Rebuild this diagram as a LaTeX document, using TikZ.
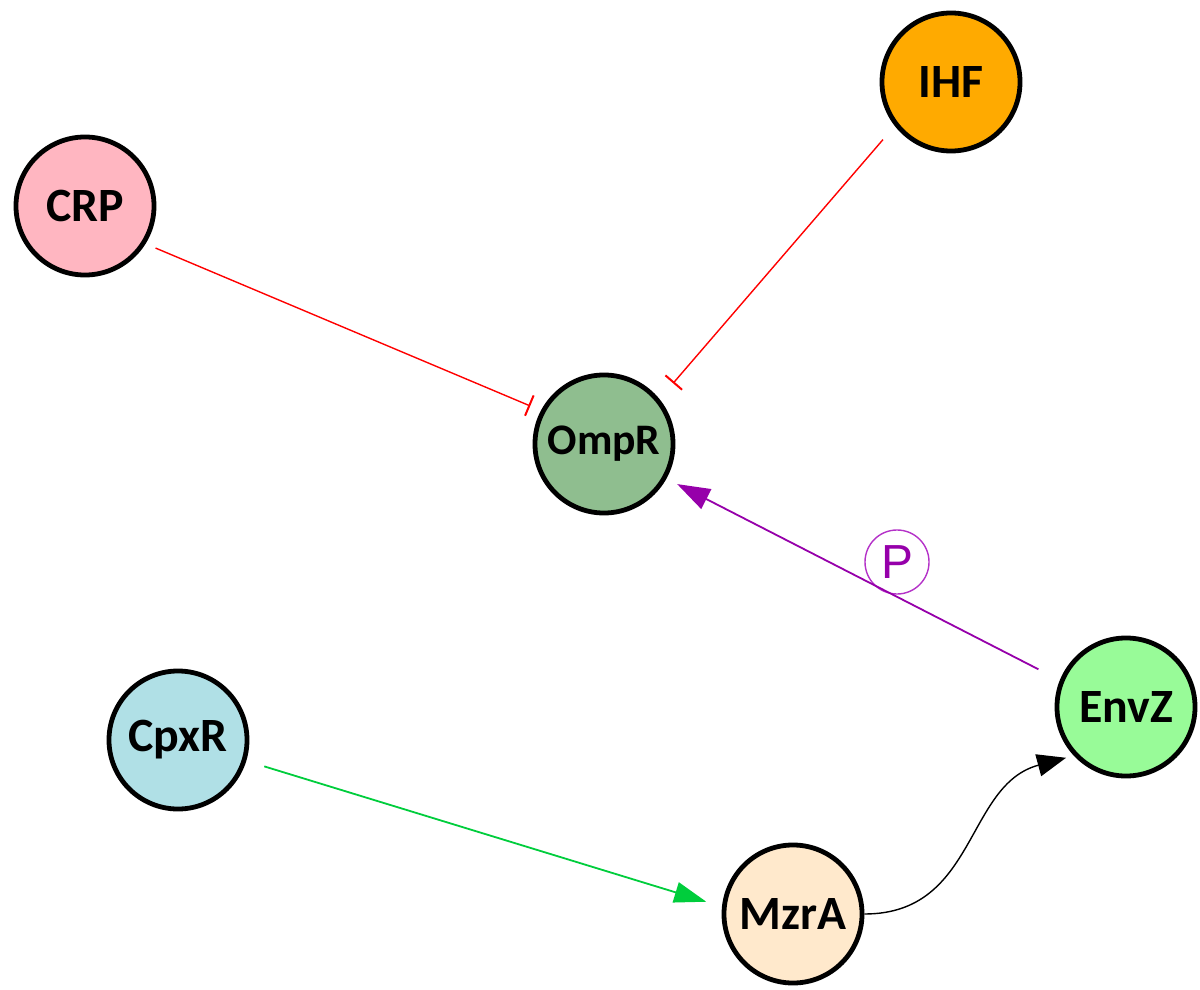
\documentclass[tikz,border=0pt]{standalone}
\usepackage{fontspec}
\setmainfont{Carlito}
\newfontfamily\pfont{Liberation Sans}
\usetikzlibrary{arrows.meta}

\definecolor{crpfill}{RGB}{255,182,193}
\definecolor{ihffill}{RGB}{255,170,0}
\definecolor{ompfill}{RGB}{143,190,143}
\definecolor{envfill}{RGB}{152,251,152}
\definecolor{cpxfill}{RGB}{176,224,230}
\definecolor{mzrfill}{RGB}{255,233,204}
\definecolor{phos}{RGB}{150,0,170}
\definecolor{phosring}{RGB}{180,50,200}
\definecolor{actgreen}{RGB}{0,205,60}

\begin{document}
\begin{tikzpicture}[
    x=0.025cm, y=0.025cm,
    gene/.style={
        circle,
        draw=black,
        line width=0.12cm,
        minimum size=3.45cm,
        inner sep=0pt,
        font=\fontsize{34}{36}\selectfont\bfseries
    },
    inhib/.style={
        -{Bar[width=0.55cm, line width=0.05cm]},
        draw=red,
        line width=0.035cm
    },
    act/.style={
        -{Triangle[length=0.8cm, width=0.52cm]},
        draw=actgreen,
        line width=0.045cm
    },
    phosph/.style={
        -{Triangle[length=0.82cm, width=0.55cm]},
        draw=phos,
        line width=0.045cm
    },
    plain/.style={
        -{Triangle[length=0.72cm, width=0.56cm]},
        draw=black,
        line width=0.035cm
    },
    pmark/.style={
        circle,
        draw=phosring,
        line width=0.035cm,
        minimum size=1.6cm,
        inner sep=0pt,
        text=phos,
        font=\fontsize{34}{36}\pfont
    }
]
    \useasboundingbox (0,0) rectangle (1200,989);

    \node (crp)  [gene, fill=crpfill] at (85,783)   {CRP};
    \node (ihf)  [gene, fill=ihffill] at (951,907)  {IHF};
    \node (ompr) [gene, fill=ompfill, font=\fontsize{31}{34}\selectfont\bfseries] at (604,545) {OmpR};
    \node (envz) [gene, fill=envfill] at (1126,282) {EnvZ};
    \node (cpxr) [gene, fill=cpxfill] at (178,249)  {CpxR};
    \node (mzra) [gene, fill=mzrfill] at (793,75)   {MzrA};

    \node (pmark) [pmark] at (897,427) {P};

    \draw [inhib, shorten <=0.27cm, shorten >=0.29cm] (crp.-32) -- (ompr.152);
    \draw [inhib, shorten <=0.45cm, shorten >=0.52cm] (ihf.218) -- (ompr.39);
    \draw [phosph, shorten <=0.6cm, shorten >=0.3cm] (envz.158.5) -- (ompr.-29);
    \draw [act, shorten <=0.47cm, shorten >=0.41cm] (cpxr.-17) -- (mzra.174);
    \draw [plain, shorten >=0.2cm] (mzra.east) to[out=0, in=195, looseness=1.1] (envz.223);

\end{tikzpicture}
\end{document}
